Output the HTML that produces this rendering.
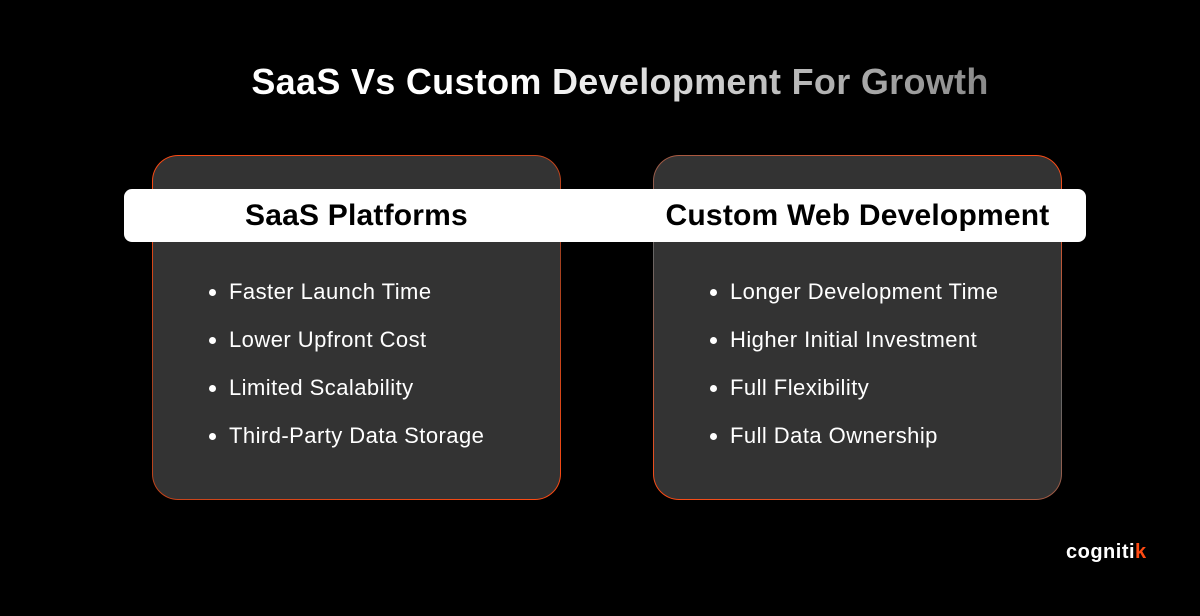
<!DOCTYPE html>
<html><head><style>
body{margin:0;width:1200px;height:616px;background:#000;position:relative;overflow:hidden;font-family:"Liberation Sans",sans-serif;}
.title{position:absolute;top:61px;left:0;width:1240px;text-align:center;font-size:36px;font-weight:bold;letter-spacing:0.3px;}
.title span{background:linear-gradient(90deg,#fff 0%,#fff 35%,#8a8a8a 100%);-webkit-background-clip:text;background-clip:text;color:transparent;}
.card{position:absolute;top:155px;width:409px;height:345px;border-radius:26px;border:1px solid transparent;box-sizing:border-box;}
.c1{left:152px;background:linear-gradient(#333,#333) padding-box,linear-gradient(160deg,#ff4a12 0%,#a04020 50%,#ff4a12 100%) border-box;}
.c2{left:653px;background:linear-gradient(#333,#333) padding-box,linear-gradient(200deg,#ff4a12 0%,#666 50%,#ff4a12 100%) border-box;}
.band{position:absolute;left:124px;top:189px;width:962px;height:53px;background:#fff;border-radius:8px;}
.h{position:absolute;top:199px;font-size:30px;font-weight:bold;color:#000;text-align:center;letter-spacing:0.2px;}
ul{position:absolute;top:278px;margin:0;padding:0 0 0 22px;color:#fff;font-size:22px;letter-spacing:0.45px;list-style:disc;}
li{height:48px;line-height:28px;}
.logo{position:absolute;left:1066px;top:541px;color:#fff;font-size:20px;font-weight:bold;letter-spacing:0.5px;}
</style></head><body>
<div class="title"><span>SaaS Vs Custom Development For Growth</span></div>
<div class="card c1"></div>
<div class="card c2"></div>
<div class="band"></div>
<div class="h" style="left:152px;width:409px">SaaS Platforms</div>
<div class="h" style="left:653px;width:409px">Custom Web Development</div>
<ul style="left:207px"><li>Faster Launch Time</li><li>Lower Upfront Cost</li><li>Limited Scalability</li><li>Third-Party Data Storage</li></ul>
<ul style="left:708px"><li>Longer Development Time</li><li>Higher Initial Investment</li><li>Full Flexibility</li><li>Full Data Ownership</li></ul>
<div class="logo">cogniti<span style="color:#ff4a12">k</span></div>
</body></html>
